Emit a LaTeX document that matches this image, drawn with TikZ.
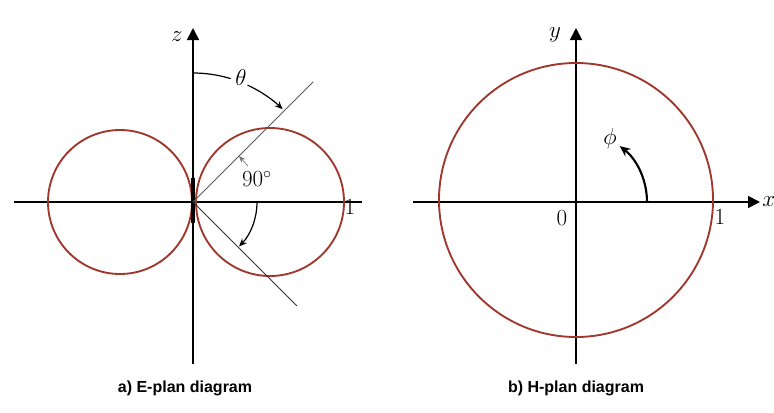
\documentclass[tikz,border=0pt]{standalone}
\usepackage{fontspec}
\newfontfamily\capfont{Liberation Sans}
\usetikzlibrary{arrows.meta}
\definecolor{lobe}{RGB}{160,55,45}
\begin{document}
\begin{tikzpicture}[x=0.75pt,y=0.75pt,
    axis/.style={line width=1.3pt,-{Triangle[length=9pt,width=9pt]}},
    lobeline/.style={line width=1.4pt,color=lobe},
    ray/.style={line width=0.6pt,color=black!65},
    anglearrow/.style={line width=0.9pt,-{Stealth[length=6pt,width=5pt]}},
    lbl/.style={font=\LARGE,inner sep=1pt},
    captiontext/.style={font=\capfont\fontsize{12}{14}\selectfont\bfseries}]
  \useasboundingbox (0,0) rectangle (774,412);

  % a) E-plane
  \begin{scope}[shift={(193,210)}]
    \coordinate (O) at (0,0);
    % Axes
    \draw[line width=1.3pt] (-179,0) -- (169,0);
    \draw[axis] (0,-162) -- (0,174);
    \node[lbl] (zlab) at (-16,165) {$z$};
    % Lobes
    \foreach \cx/\r in {77/74,-73/72} {
        \draw[lobeline] (\cx,0) circle (\r);
    }
    % Dipole
    \fill[black] (-2.5,-21) rectangle (2,24);
    % Rays at 45 degrees
    \draw[ray] (O) -- (45:170);
    \draw[ray,black!80] (O) -- (-45:147);
    % Theta
    \draw[line width=0.9pt] (90:129) arc (90:73:129);
    \draw[anglearrow] (65:129) arc (65:46:129);
    \node[lbl] (theta) at (48,125) {$\theta$};
    % Half-power beamwidth
    \draw[anglearrow] (64,0) arc (0:-44:64);
    \draw[black!55,line width=0.5pt,-{Stealth[length=5pt,width=4pt]}] (55,36) -- (45:65);
    \node[lbl] (ninety) at (64,23) {$90^\circ$};
    \node[lbl] (onea) at (157,-5) {1};
  \end{scope}

  % b) H-plane
  \begin{scope}[shift={(576,210)}]
    % Axes
    \draw[axis] (-163,0) -- (184,0);
    \draw[axis] (0,-162) -- (0,174);
    \node[lbl,anchor=west,inner sep=0pt] (xlab) at (186,0) {$x$};
    \node[lbl] (ylab) at (-21,167) {$y$};
    % Pattern
    \draw[lobeline] (0,2) circle (137);
    % Phi
    \draw[line width=1.6pt,-{Stealth[length=8pt,width=7pt]}] (71,0) arc (0:52:71);
    \node[lbl] (philab) at (34,63) {$\phi$};
    \node[lbl] (zero) at (-14,-16) {0};
    \node[lbl] (oneb) at (144,-15) {1};
  \end{scope}

  % Captions
  \node[captiontext] (capa) at (185,24) {a) E-plan diagram};
  \node[captiontext] (capb) at (576,24) {b) H-plan diagram};
\end{tikzpicture}
\end{document}
